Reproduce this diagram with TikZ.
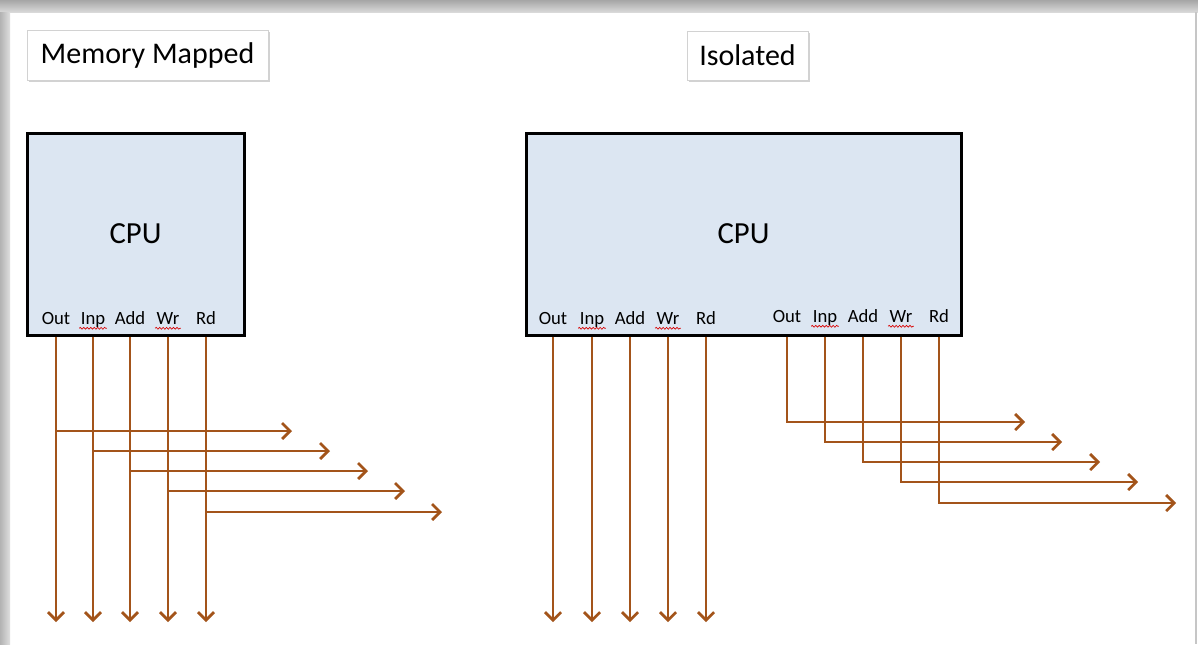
\documentclass[tikz,border=0pt]{standalone}
\usepackage{fontspec}
\setmainfont{Carlito}
\usepackage{xcolor}
\usetikzlibrary{arrows.meta,shadows,decorations.pathmorphing}
\definecolor{busbrown}{RGB}{163,84,26}
\definecolor{cpublue}{RGB}{220,230,242}
\tikzset{%
  title box/.style = {
    draw=gray!35, fill=white, inner sep=0pt,
    font=\fontsize{22.5}{26}\selectfont,
    drop shadow={shadow xshift=1.5pt, shadow yshift=-1.5pt, opacity=0.35},
  },
  cpu box/.style = {
    draw=black, line width=2.25pt, fill=cpublue, inner sep=0pt,
    font=\fontsize{23}{26}\selectfont,
  },
  pin label/.style = {
    anchor=base, inner sep=0pt, font=\fontsize{14}{16}\selectfont,
  },
  bus/.style = {
    draw=busbrown, line width=1.9pt,
    -{Straight Barb[length=6pt,width=12pt,line width=2pt]},
  },
  spell/.style = {
    draw=red!85!black, line width=0.5pt,
    decoration={snake, amplitude=0.7pt, segment length=2.6pt}, decorate,
  },
}

\begin{document}
\begin{tikzpicture}[x=0.75pt,y=-0.75pt]
\useasboundingbox (0,0) rectangle (1198,644);
% page frame
\fill[white] (0,0) rectangle (1198,644);
\shade[top color=gray!70, bottom color=gray!30] (0,0) rectangle (1198,12);
\shade[left color=gray!60, right color=gray!25] (0,12) rectangle (10,644);
\draw[gray!45, line width=1.5pt] (1196,12) -- (1196,644);

% titles
\node[title box, minimum width=180.75pt, minimum height=37.5pt]
  (tMem) at (147.5,55) {Memory Mapped};
\node[title box, minimum width=90.75pt, minimum height=36.75pt]
  (tIso) at (747.5,55.5) {Isolated};

% CPUs
\node[cpu box, minimum width=162.75pt, minimum height=151.5pt]
  (cpuL) at (135.5,234) {CPU};
\node[cpu box, minimum width=326.25pt, minimum height=151.5pt]
  (cpuR) at (743.5,234) {CPU};

% memory mapped: shared lines
\foreach \n/\x/\y/\e [count=\i] in
  {Out/56/431/292, Inp/93/451/330, Add/130/471/368, Wr/168/491/405, Rd/206/512/442} {
  \node[pin label] (pL\i) at (\x,324) {\n};
  \coordinate (pLdown\i) at (\x,622);
  \coordinate (pLside\i) at (\e,\y);
  \draw[bus] (pL\i |- cpuL.south) -- (pLdown\i);
  \draw[bus] (pL\i |- pLside\i) -- (pLside\i);
}

% isolated: memory lines
\foreach \n/\x [count=\i] in {Out/553, Inp/592, Add/630, Wr/668, Rd/706} {
  \node[pin label] (pM\i) at (\x,324) {\n};
  \coordinate (pMdown\i) at (\x,622);
  \draw[bus] (pM\i |- cpuR.south) -- (pMdown\i);
}

% isolated: i/o lines
\foreach \n/\x/\y/\e [count=\i] in
  {Out/787/422/1025, Inp/825/442/1062, Add/863/462/1100, Wr/901/482/1138, Rd/939/503/1176} {
  \node[pin label] (pI\i) at (\x,322) {\n};
  \coordinate (pIside\i) at (\e,\y);
  \draw[bus] (pI\i |- cpuR.south) |- (pIside\i);
}

% spell check marks
\foreach \p in {pL2,pL4,pM2,pM4,pI2,pI4}
  \draw[spell] ([xshift=-1pt,yshift=-3.2pt]\p.base west) -- ([xshift=1pt,yshift=-3.2pt]\p.base east);
\end{tikzpicture}
\end{document}
